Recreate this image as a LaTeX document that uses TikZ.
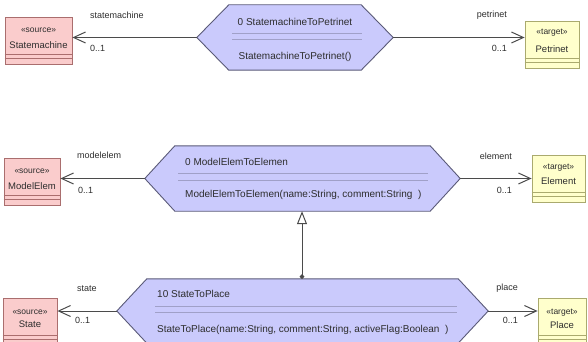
\documentclass[tikz,border=0pt]{standalone}
\usepackage{fontspec}
\setmainfont{Liberation Sans}
\usetikzlibrary{arrows.meta,calc}

\definecolor{srcfill}{RGB}{250,204,204}
\definecolor{srcedge}{RGB}{170,110,110}
\definecolor{tgtfill}{RGB}{255,255,204}
\definecolor{tgtedge}{RGB}{170,170,110}
\definecolor{hexfill}{RGB}{202,202,252}
\definecolor{hexedge}{RGB}{90,90,120}
\definecolor{hexsep}{RGB}{160,160,200}
\definecolor{ink}{RGB}{45,45,45}
\definecolor{wire}{RGB}{75,75,75}

% hexagonal rule shape drawn around a (borderless) rectangle node
\newcommand{\rulehex}[2]{%
  \draw[hexdraw] ($(#1.north west)+(#2,0)$) -- ($(#1.north east)+(-#2,0)$)
    -- (#1.east) -- ($(#1.south east)+(-#2,0)$) -- ($(#1.south west)+(#2,0)$)
    -- (#1.west) -- cycle;}
% compartment lines at the bottom of a class box
\newcommand{\compart}[2]{%
  \draw[#2, line width=0.6pt] ($(#1.north west)+(0,37)$) -- ($(#1.north east)+(0,37)$);
  \draw[#2, line width=0.6pt] ($(#1.north west)+(0,41)$) -- ($(#1.north east)+(0,41)$);}

\begin{document}
\begin{tikzpicture}[x=1pt,y=-1pt,
  every node/.style={text=ink, inner sep=0pt},
  hexnode/.style={rectangle, minimum height=65pt},
  hexdraw/.style={draw=hexedge, fill=hexfill, line width=0.9pt},
  srcbox/.style={draw=srcedge, fill=srcfill, line width=0.8pt, anchor=north, minimum height=47pt},
  tgtbox/.style={draw=tgtedge, fill=tgtfill, line width=0.8pt, anchor=north, minimum height=47pt},
  stereo/.style={font=\fontsize{8.5}{10}\selectfont},
  clsname/.style={font=\fontsize{9.5}{11}\selectfont},
  ruletext/.style={font=\fontsize{10}{12}\selectfont},
  rolelabel/.style={font=\fontsize{9}{11}\selectfont},
  assoc/.style={draw=wire, line width=1pt, -{Straight Barb[length=12pt,width=11pt]}},
  gen/.style={draw=wire, line width=1pt,
    {Circle[length=4.5pt]}-{Triangle[open,length=13pt,width=10pt,fill=white]}}
]
\useasboundingbox (0,0) rectangle (588,342);
\clip (0,0) rectangle (588,342);

% ---------------- rule nodes ----------------
\node[hexnode, minimum width=196pt] (r1) at (295,37.5) {};
\node[hexnode, minimum width=315pt] (r2) at (302.5,178.5) {};
\node[hexnode, minimum width=371pt, minimum height=64pt] (r3) at (302.5,311) {};

\rulehex{r1}{32}
\rulehex{r2}{30}
\rulehex{r3}{30}

\draw[hexsep, line width=0.6pt] (232,33) -- (362,33) (232,39) -- (362,39);
\draw[hexsep, line width=0.6pt] (178,173) -- (428,173) (178,180) -- (428,180);
\draw[hexsep, line width=0.6pt] (155,306) -- (457,306) (155,312) -- (457,312);

\node[ruletext] at (295,22) {0 StatemachineToPetrinet};
\node[ruletext] at (295,57) {StatemachineToPetrinet()};
\node[ruletext, anchor=west] at (185,162) {0 ModelElemToElemen};
\node[ruletext, anchor=west] at (185,195) {ModelElemToElemen(name:String, comment:String~~)};
\node[ruletext, anchor=west] at (157,294) {10 StateToPlace};
\node[ruletext, anchor=west] at (157,330) {StateToPlace(name:String, comment:String, activeFlag:Boolean~~)};

% ---------------- class boxes ----------------
\node[srcbox, minimum width=67pt] (sm) at (38.5,17) {};
\node[tgtbox, minimum width=54pt] (pn) at (552,21) {};
\node[srcbox, minimum width=56pt] (me) at (32,158) {};
\node[tgtbox, minimum width=53pt] (el) at (558.5,155) {};
\node[srcbox, minimum width=54pt] (st) at (30,298) {};
\node[tgtbox, minimum width=48pt] (pl) at (562,298) {};

\compart{sm}{srcedge}
\compart{pn}{tgtedge}
\compart{me}{srcedge}
\compart{el}{tgtedge}
\compart{st}{srcedge}
\compart{pl}{tgtedge}

\node[stereo]  at ($(sm.north)+(0,13)$) {«source»};
\node[clsname] at ($(sm.north)+(0,28)$) {Statemachine};
\node[stereo]  at ($(pn.north)+(0,12)$) {«target»};
\node[clsname] at ($(pn.north)+(0,28)$) {Petrinet};
\node[stereo]  at ($(me.north)+(0,13)$) {«source»};
\node[clsname] at ($(me.north)+(0,28)$) {ModelElem};
\node[stereo]  at ($(el.north)+(0,13)$) {«target»};
\node[clsname] at ($(el.north)+(0,26)$) {Element};
\node[stereo]  at ($(st.north)+(0,14)$) {«source»};
\node[clsname] at ($(st.north)+(0,26)$) {State};
\node[stereo]  at ($(pl.north)+(0,15)$) {«target»};
\node[clsname] at ($(pl.north)+(0,27)$) {Place};

% ---------------- associations ----------------
\draw[assoc] (r1.west) -- (r1.west -| sm.east);
\draw[assoc] (r1.east) -- (r1.east -| pn.west);
\draw[assoc] (r2.west) -- (r2.west -| me.east);
\draw[assoc] (r2.east) -- (r2.east -| el.west);
\draw[assoc] (r3.west) -- (r3.west -| st.east);
\draw[assoc] (r3.east) -- (r3.east -| pl.west);

\node[rolelabel, anchor=west] at (90,15)  {statemachine};
\node[rolelabel, anchor=west] at (90,48)  {0..1};
\node[rolelabel, anchor=east] at (507,15) {petrinet};
\node[rolelabel, anchor=east] at (507,48) {0..1};
\node[rolelabel, anchor=west] at (77,155) {modelelem};
\node[rolelabel, anchor=west] at (78,190) {0..1};
\node[rolelabel, anchor=east] at (512,156) {element};
\node[rolelabel, anchor=east] at (512,190) {0..1};
\node[rolelabel, anchor=west] at (77,289) {state};
\node[rolelabel, anchor=west] at (75,320) {0..1};
\node[rolelabel, anchor=east] at (518,288) {place};
\node[rolelabel, anchor=east] at (518,320) {0..1};

% ---------------- generalization ----------------
\coordinate (gx) at (302,0);
\draw[gen] (r3.north -| gx) -- (r2.south -| gx);
\end{tikzpicture}
\end{document}
